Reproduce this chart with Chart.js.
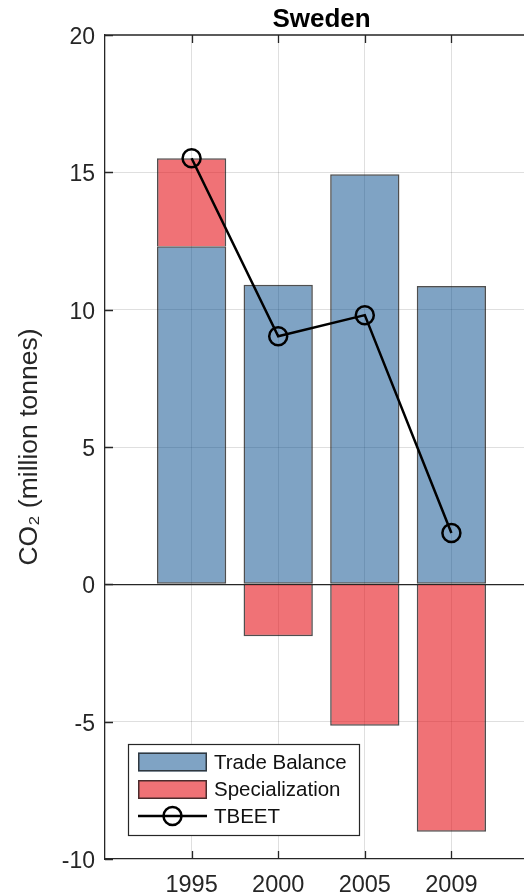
<!DOCTYPE html>
<html>
<head>
<meta charset="utf-8">
<script src="https://cdn.jsdelivr.net/npm/chart.js@4.4.1/dist/chart.umd.min.js"></script>
<style>
  html, body { margin: 0; padding: 0; background: #fff; }
  body { width: 524px; height: 896px; overflow: hidden; }
  canvas { display: block; }
</style>
</head>
<body>
<canvas id="chart" width="560" height="896"></canvas>
<script>
// Sweden: CO2 (million tonnes) by year
const years = ['1995', '2000', '2005', '2009'];
const tradeBalance = [12.31, 10.91, 14.93, 10.86];
const specialization = [3.20, -1.89, -5.15, -9.01];
const tbeet = [15.51, 9.03, 9.80, 1.87];
const yTicks = [-10, -5, 0, 5, 10, 15, 20];

const FONT = "'Liberation Sans', Arial, Helvetica, sans-serif";
const AXIS = '#262626';
const GRID = 'rgba(38,38,38,0.15)';

const toPoints = arr => arr.map((v, i) => ({ x: i + 1, y: v }));

// Inward tick marks and the top edge of the axes box
const boxTicks = {
  id: 'boxTicks',
  afterDatasetsDraw(chart) {
    const { ctx, chartArea: a, scales: { x, y } } = chart;
    const len = 8;
    ctx.save();
    ctx.strokeStyle = AXIS;
    ctx.lineWidth = 1.3;
    ctx.beginPath();
    ctx.moveTo(a.left, a.top);
    ctx.lineTo(a.right, a.top);
    for (let i = 1; i <= years.length; i++) {
      const px = Math.round(x.getPixelForValue(i)) + 0.5;
      ctx.moveTo(px, a.bottom);
      ctx.lineTo(px, a.bottom - len);
      ctx.moveTo(px, a.top);
      ctx.lineTo(px, a.top + len);
    }
    yTicks.forEach(v => {
      const py = Math.round(y.getPixelForValue(v)) + 0.5;
      ctx.moveTo(a.left, py);
      ctx.lineTo(a.left + len, py);
    });
    ctx.stroke();
    ctx.restore();
  }
};

// Boxed legend inside the lower-left of the plot
const boxLegend = {
  id: 'boxLegend',
  afterDraw(chart) {
    const { ctx, chartArea: a } = chart;
    const ds = chart.data.datasets;
    const bx = a.left + 23, by = a.bottom - 115, bw = 231, bh = 91;
    ctx.save();
    ctx.fillStyle = '#fff';
    ctx.fillRect(bx, by, bw, bh);
    ctx.strokeStyle = AXIS;
    ctx.lineWidth = 1.2;
    ctx.strokeRect(bx + 0.5, by + 0.5, bw, bh);
    const px = bx + 10, pw = 69, ph = 19;
    const rows = [by + 18, by + 45.5, by + 72];
    ctx.font = `20.5px ${FONT}`;
    ctx.textBaseline = 'middle';
    ds.forEach((d, i) => {
      const cy = rows[i];
      if (d.type === 'line') {
        ctx.strokeStyle = d.borderColor;
        ctx.lineWidth = d.borderWidth;
        ctx.beginPath();
        ctx.moveTo(px, cy);
        ctx.lineTo(px + pw, cy);
        ctx.stroke();
        ctx.beginPath();
        ctx.arc(px + pw / 2, cy, d.pointRadius, 0, Math.PI * 2);
        ctx.lineWidth = d.pointBorderWidth;
        ctx.stroke();
      } else {
        ctx.fillStyle = d.backgroundColor;
        ctx.fillRect(px, cy - ph / 2, pw, ph);
        ctx.strokeStyle = d.borderColor;
        ctx.lineWidth = 1.5;
        ctx.strokeRect(px + 0.75, cy - ph / 2 + 0.75, pw - 1.5, ph - 1.5);
      }
      ctx.fillStyle = '#111';
      ctx.fillText(d.label, px + pw + 7, cy + 1);
    });
    ctx.restore();
  }
};

new Chart(document.getElementById('chart'), {
  data: {
    datasets: [
      {
        type: 'bar',
        label: 'Trade Balance',
        data: toPoints(tradeBalance),
        backgroundColor: 'rgba(0,72,137,0.5)',
        borderColor: 'rgba(20,20,20,0.75)',
        borderWidth: 1.5,
        borderSkipped: false,
        stack: 'bars',
        categoryPercentage: 0.8,
        barPercentage: 1.0,
        order: 2
      },
      {
        type: 'bar',
        label: 'Specialization',
        data: toPoints(specialization),
        backgroundColor: 'rgba(230,20,27,0.6)',
        borderColor: 'rgba(20,20,20,0.75)',
        borderWidth: 1.5,
        borderSkipped: 'start',
        stack: 'bars',
        categoryPercentage: 0.8,
        barPercentage: 1.0,
        order: 2
      },
      {
        type: 'line',
        label: 'TBEET',
        data: toPoints(tbeet),
        borderColor: '#000',
        borderWidth: 2.5,
        pointRadius: 9,
        pointBorderWidth: 2.5,
        pointBackgroundColor: 'rgba(0,0,0,0)',
        pointBorderColor: '#000',
        tension: 0,
        stack: 'line',
        order: 1
      }
    ]
  },
  options: {
    responsive: false,
    animation: false,
    devicePixelRatio: 1,
    layout: { padding: { left: 0, right: 22, top: 0, bottom: 0 } },
    plugins: {
      legend: { display: false },
      tooltip: { enabled: false },
      title: {
        display: true,
        text: 'Sweden',
        fullSize: false,
        color: '#000',
        font: { family: FONT, size: 26, weight: 'bold', lineHeight: 1 },
        padding: { top: 7, bottom: 2 }
      }
    },
    scales: {
      x: {
        type: 'linear',
        min: 0,
        max: 5,
        offset: false,
        afterFit(scale) { scale.height = 37; },
        afterBuildTicks(scale) {
          scale.ticks = [0, 1, 2, 3, 4, 5].map(v => ({ value: v }));
        },
        ticks: {
          color: AXIS,
          padding: 12,
          autoSkip: false,
          maxRotation: 0,
          font: { family: FONT, size: 23.5 },
          callback: v => (v >= 1 && v <= years.length ? years[v - 1] : '')
        },
        grid: {
          drawTicks: false,
          offset: false,
          lineWidth: 1,
          color: c => (c.tick && c.tick.value >= 1 && c.tick.value <= years.length ? GRID : 'rgba(0,0,0,0)')
        },
        border: { display: true, color: AXIS, width: 1.3 }
      },
      y: {
        type: 'linear',
        stacked: true,
        min: -10,
        max: 20,
        afterFit(scale) { scale.width = 105; },
        afterBuildTicks(scale) {
          scale.ticks = yTicks.map(v => ({ value: v }));
        },
        ticks: {
          color: AXIS,
          padding: 10,
          labelOffset: 2.5,
          font: { family: FONT, size: 23 }
        },
        grid: {
          drawTicks: false,
          lineWidth: c => (c.tick && c.tick.value === 0 ? 1.3 : 1),
          color: c => {
            const v = c.tick ? c.tick.value : null;
            if (v === 0) return AXIS;
            if (v === -10 || v === 20) return 'rgba(0,0,0,0)';
            return GRID;
          }
        },
        border: { display: true, color: AXIS, width: 1.3 },
        title: {
          display: true,
          text: 'CO₂ (million tonnes)',
          color: AXIS,
          font: { family: FONT, size: 26.5, lineHeight: 1.2 },
          padding: { top: 14, bottom: 0 }
        }
      }
    }
  },
  plugins: [boxTicks, boxLegend]
});
</script>
</body>
</html>
